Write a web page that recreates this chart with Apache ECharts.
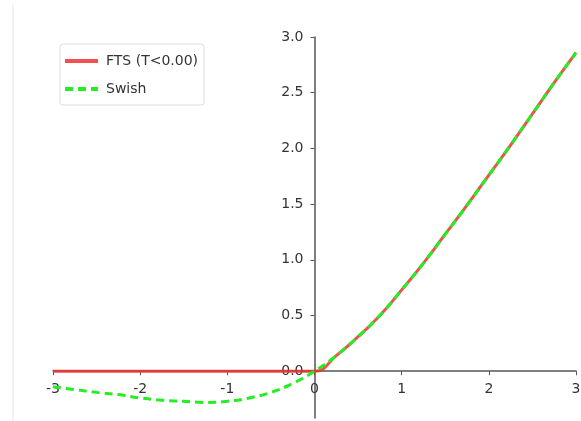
<html>
<head>
    <title></title>
    <meta charset="utf-8">
    <script src="https://cdn.jsdelivr.net/npm/echarts@6/dist/echarts.min.js" type="text/javascript"></script>
</head>
<body style="margin:0">
    <div id="main" style="width: 581px; height: 421px"></div>
    <script>
        // values
        var xVals = [-3, -2.75, -2.5, -2.25, -2, -1.75, -1.5, -1.25, -1, -0.75, -0.5, -0.25, 0,
                     0.25, 0.5, 0.75, 1, 1.25, 1.5, 1.75, 2, 2.25, 2.5, 2.75, 3];
        var swishVals = [-0.14, -0.165, -0.19, -0.21, -0.24, -0.26, -0.27, -0.28, -0.27, -0.24, -0.19, -0.11, 0,
                         0.14, 0.31, 0.50, 0.73, 0.97, 1.23, 1.49, 1.76, 2.03, 2.31, 2.59, 2.86];
        var ftsVals = [0, 0, 0, 0, 0, 0, 0, 0, 0, 0, 0, 0, 0,
                       0.14, 0.31, 0.50, 0.73, 0.97, 1.23, 1.49, 1.76, 2.03, 2.31, 2.59, 2.86];
        var xTicks = [-3, -2, -1, 0, 1, 2, 3];
        var yTicks = [0, 0.5, 1, 1.5, 2, 2.5, 3];

        function pairs(xs, ys) {
            var out = [];
            for (var i = 0; i < xs.length; i++) out.push([xs[i], ys[i]]);
            return out;
        }

        window.onload = function () {
            var myChart = echarts.init(document.getElementById('main'));
            var font = 'DejaVu Sans, sans-serif';
            var option = {
                animation: false,
                textStyle: { fontFamily: font },
                grid: { left: 53, right: 5, top: 37, bottom: 3, containLabel: false, outerBoundsMode: 'none' },
                legend: {
                    orient: 'vertical',
                    left: 60,
                    top: 44,
                    padding: [10, 6, 9, 3],
                    itemWidth: 33,
                    itemHeight: 14,
                    itemGap: 14,
                    borderColor: '#dddddd',
                    borderWidth: 1,
                    borderRadius: 3,
                    backgroundColor: '#ffffff',
                    itemStyle: { opacity: 0 },
                    lineStyle: { width: 4 },
                    textStyle: { fontFamily: font, fontSize: 14, color: '#333', padding: [0, 0, 0, 3] },
                    data: ['FTS (T<0.00)', 'Swish']
                },
                xAxis: {
                    type: 'value',
                    min: -3,
                    max: 3,
                    interval: 1,
                    splitLine: { show: false },
                    axisLine: { onZero: false, lineStyle: { color: '#555', width: 1.5 } },
                    axisTick: { show: true, length: 4, lineStyle: { color: '#555' }, customValues: xTicks },
                    axisLabel: {
                        color: '#333', fontSize: 14, margin: 11, fontFamily: font,
                        customValues: xTicks,
                        formatter: function (v) { return String(v); }
                    }
                },
                yAxis: {
                    type: 'value',
                    min: -0.42,
                    max: 3,
                    splitLine: { show: false },
                    axisLine: { show: true, onZero: false, lineStyle: { color: '#555', width: 1.5 } },
                    axisTick: { show: true, length: 4, lineStyle: { color: '#555' }, customValues: yTicks },
                    axisLabel: {
                        color: '#333', fontSize: 14, margin: 11, fontFamily: font,
                        customValues: yTicks,
                        formatter: function (v) { return v.toFixed(1); }
                    }
                },
                graphic: [{
                    type: 'line',
                    shape: { x1: 13, y1: 4, x2: 13, y2: 421 },
                    style: { stroke: '#e6e6e6', lineWidth: 1 },
                    z: -1
                }],
                series: [
                    {
                        name: 'FTS (T<0.00)',
                        type: 'line',
                        data: pairs(xVals, ftsVals),
                        smooth: true,
                        symbol: 'none',
                        color: '#f03030',
                        lineStyle: { color: '#f03030', width: 3, opacity: 0.85 },
                        z: 3
                    },
                    {
                        name: 'Swish',
                        type: 'line',
                        data: pairs(xVals, swishVals),
                        smooth: true,
                        symbol: 'none',
                        color: '#22ee22',
                        lineStyle: { color: '#22ee22', width: 3, type: [8, 5] },
                        z: 4
                    }
                ]
            };
            myChart.setOption(option);

            // move both axes to cross at the origin, labels included
            var origin = myChart.convertToPixel({ gridIndex: 0 }, [0, 0]);
            var corner = myChart.convertToPixel({ gridIndex: 0 }, [-3, -0.42]);
            myChart.setOption({
                xAxis: { offset: -(corner[1] - origin[1]) },
                yAxis: { offset: -(origin[0] - corner[0]) }
            });
        };
    </script>
</body>
</html>
